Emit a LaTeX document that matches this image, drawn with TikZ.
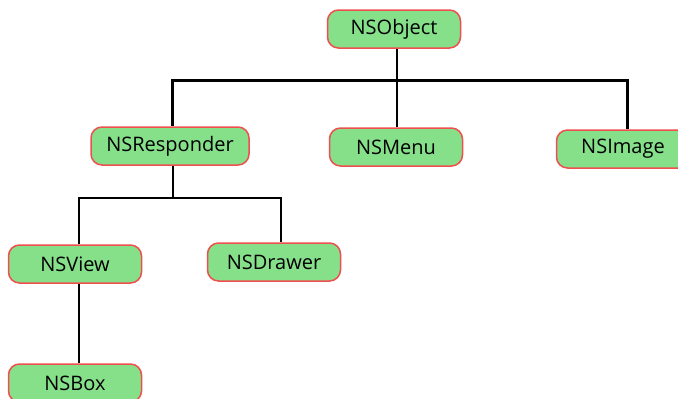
\documentclass[tikz,border=0pt]{standalone}
\usepackage{fontspec}
\usetikzlibrary{backgrounds}
\setmainfont{Open Sans}
\definecolor{boxfill}{HTML}{86E08A}
\definecolor{boxedge}{HTML}{F04F4F}
\begin{document}
\begin{tikzpicture}[x=1pt,y=-1pt,
  cls/.style={draw=boxedge, fill=boxfill, line width=1.5pt, rounded corners=11pt,
    minimum width=133pt, minimum height=38pt, inner sep=0pt, font=\fontsize{20}{24}\selectfont},
  link/.style={draw=black, line width=2.6pt}]
\useasboundingbox (0,0) rectangle (678,399);
\clip (0,0) rectangle (678,399);
\coordinate (j1) at (397,80.5);
\coordinate (j2) at (173,198);
\node[cls] (obj) at (394,29) {NSObject};
\node[cls, minimum width=158pt] (resp) at (170,146) {NSResponder};
\node[cls] (menu) at (396,147) {NSMenu};
\node[cls] (img) at (623,149) {NSImage};
\node[cls] (view) at (75,264) {NSView};
\node[cls] (drawer) at (274,262) {NSDrawer};
\node[cls] (box) at (75,383) {NSBox};
\begin{scope}[on background layer]
\draw[link] (obj.south -| j1) -- (j1);
\draw[link] (resp.north -| 172.5,0) |- (j1) -| (img.north -| 627.5,0);
\draw[link] (menu.north -| j1) -- (j1);
\draw[link] (resp.south -| j2) -- (j2);
\draw[link] (view.north -| 79,0) |- (j2) -| (drawer.north -| 281,0);
\draw[link] (view.south -| 79,0) -- (box.north -| 79,0);
\end{scope}
\end{tikzpicture}
\end{document}
